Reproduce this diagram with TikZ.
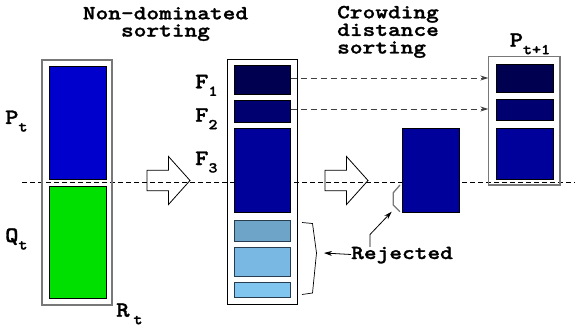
\documentclass[tikz,border=0pt]{standalone}
\usepackage{fontspec}
\newfontfamily\cour{lmmonolt10-bold}[Extension=.otf, FakeStretch=1.15, FakeBold=1.3]
\newfontfamily\courw{lmmonolt10-bold}[Extension=.otf, FakeStretch=1.21, FakeBold=1.3]
\usetikzlibrary{fit,arrows.meta}
\definecolor{ptblue}{RGB}{0,0,204}
\definecolor{qgreen}{RGB}{0,224,0}
\definecolor{fone}{RGB}{0,0,80}
\definecolor{ftwo}{RGB}{0,0,112}
\definecolor{fthree}{RGB}{0,0,154}
\definecolor{lone}{RGB}{110,164,200}
\definecolor{ltwo}{RGB}{122,184,228}
\definecolor{lthree}{RGB}{128,196,240}
\definecolor{lborder}{RGB}{40,60,80}
\definecolor{boxgray}{RGB}{120,120,120}
\newcommand{\mylab}[3][0pt]{{\fontsize{22}{22}\selectfont #2}\hspace{#1}\raisebox{-7.5pt}{\fontsize{15}{15}\selectfont #3}}
\begin{document}
\begin{tikzpicture}[x=1pt,y=-1pt,
  outerbox/.style={draw=boxgray, line width=1.4pt, inner sep=0pt, outer sep=0pt},
  fbox/.style={draw=black, line width=0.8pt, inner sep=0pt, outer sep=0pt},
  cell/.style={draw=black, line width=0.6pt, inner sep=0pt, outer sep=0pt},
  lcell/.style={draw=lborder, line width=0.8pt, inner sep=0pt, outer sep=0pt},
  titletext/.style={font=\courw\fontsize{20}{20}\selectfont, inner sep=0pt},
  labtext/.style={font=\cour, inner sep=0pt, anchor=base west},
  midline/.style={draw=black, line width=0.7pt, dash pattern=on 5pt off 3pt},
  dasharrow/.style={draw=black!75, line width=0.8pt, dash pattern=on 6pt off 4pt, -{Stealth[length=8pt,width=5pt]}},
  blockarrow/.pic={\draw[line width=0.8pt] (0,-10.3) -- (21.5,-10.3) -- (21.5,-24) -- (43,0) -- (21.5,24) -- (21.5,10.3) -- (0,10.3) -- cycle;}
]
\useasboundingbox[fill=white] (0,0) rectangle (575,326);

% horizontal dashed line (behind boxes)
\coordinate (dl) at (22,182.3);
\coordinate (dr) at (575,182.3);
\draw[midline] (dl) -- (dr);

% titles
\node[titletext, anchor=base] (t1) at (165.5,19.3)
  {\fontsize{20}{17}\selectfont\begin{tabular}[t]{@{}c@{}}Non-dominated\\sorting\end{tabular}};
\node[titletext, anchor=base west] (t2) at (337,18.3)
  {\fontsize{20}{17.6}\selectfont\begin{tabular}[t]{@{}l@{}}Crowding\\distance\\sorting\end{tabular}};

% R_t
\node[outerbox, fit={(42,60) (112,305)}] (rt) {};
\node[cell, fill=ptblue, fit={(49,66.7) (106,179.3)}] (pt) {};
\node[cell, fill=qgreen, fit={(49,186) (106,298)}] (qt) {};
\node[labtext] (lpt) at (5,124) {\mylab{P}{t}};
\node[labtext] (lqt) at (5,242) {\mylab{Q}{t}};
\node[labtext] (lrt) at (116,316.7) {\mylab[4pt]{R}{t}};

% block arrows
\pic at (147,180.5) {blockarrow};
\pic at (325,180.5) {blockarrow};

% F box
\node[fbox, fit={(227,59) (297,304)}] (fb) {};
\node[cell, fill=fone, fit={(234,65) (290.7,94)}] (f1) {};
\node[cell, fill=ftwo, fit={(234,100) (290.7,122)}] (f2) {};
\node[cell, fill=fthree, fit={(234,128) (290.7,212.7)}] (f3) {};
\node[lcell, fill=lone, fit={(234,220) (290.7,241)}] (r1) {};
\node[lcell, fill=ltwo, fit={(234,247.7) (290.7,276.7)}] (r2) {};
\node[lcell, fill=lthree, fit={(234,282.7) (290.7,297.3)}] (r3) {};
\node[labtext] (lf1) at (195,88.3) {\mylab{F}{1}};
\node[labtext] (lf2) at (195,121.7) {\mylab{F}{2}};
\node[labtext] (lf3) at (195,165) {\mylab{F}{3}};

% rejected part of F3
\node[cell, fill=fthree, fit={(402.7,128.3) (459.3,212.7)}] (rej) {};

% P_{t+1}
\node[outerbox, fit={(488.3,56.7) (560,185)}] (pn) {};
\node[cell, fill=fone, fit={(496,64) (553.3,92.7)}] (n1) {};
\node[cell, fill=ftwo, fit={(496,99) (553.3,120.7)}] (n2) {};
\node[cell, fill=fthree, fit={(496,128.3) (553.3,179.3)}] (n3) {};
\node[labtext] (lpn) at (509.5,46.7) {\mylab{P}{t+1}};

% dashed arrows
\draw[dasharrow] ([yshift=1.5pt]f1.east) -- ([yshift=1.5pt]f1.east -| pn.west);
\draw[dasharrow] ([yshift=2pt]f2.east) -- ([yshift=2pt]f2.east -| pn.west);

% Rejected
\node[titletext, anchor=base west, text height=12pt, text depth=3pt] (rl) at (351,259) {Rejected};
% big bracket
\draw[line width=0.7pt] (302,222.5) -- (312.5,223.5) -- (316.5,253) -- (312.5,293) -- (302,294.5);
\coordinate (bb) at (324,253);
\draw[line width=0.8pt, -{Stealth[length=8pt,width=5pt]}] (rl.west) -- (bb);
% small bracket
\draw[boxgray, line width=1.3pt] (400,185) -- (393.3,192.7) -- (393.3,205) -- (400,211.7);
\coordinate (bk) at (391.7,211.7);
\draw[line width=0.8pt, -{Stealth[length=8pt,width=5pt]}] ([xshift=19pt]rl.north west) -- ++(0,-12.3) -- (bk);
\end{tikzpicture}
\end{document}
